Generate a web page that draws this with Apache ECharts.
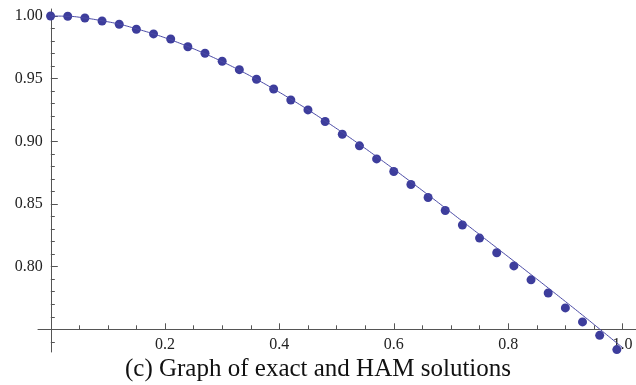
<!DOCTYPE html>
<html>
<head>
<meta charset="utf-8">
<title>exact and HAM solutions</title>
<script src="https://cdn.jsdelivr.net/npm/echarts@6.0.0/dist/echarts.min.js"></script>
<style>
  html, body { margin: 0; padding: 0; background: #fff; }
  #main { width: 636px; height: 385px; }
</style>
</head>
<body>
<div id="main"></div>
<script>
// HAM solution (dots)
const hamX = [0, 0.03, 0.06, 0.09, 0.12, 0.15, 0.18, 0.21, 0.24, 0.27, 0.30, 0.33,
  0.36, 0.39, 0.42, 0.45, 0.48, 0.51, 0.54, 0.57, 0.60, 0.63, 0.66, 0.69,
  0.72, 0.75, 0.78, 0.81, 0.84, 0.87, 0.90, 0.93, 0.96, 0.99]
const hamValues = [1.0000, 0.9998, 0.9984, 0.9960, 0.9934, 0.9894, 0.9857, 0.9817,
  0.9755, 0.9703, 0.9639, 0.9572, 0.9495, 0.9418, 0.9330, 0.9251, 0.9158,
  0.9057, 0.8964, 0.8860, 0.8759, 0.8656, 0.8552, 0.8448, 0.8332, 0.8228,
  0.8111, 0.8006, 0.7895, 0.7790, 0.7671, 0.7559, 0.7452, 0.7338]

// exact solution (thin line)
const exactX = [0, 0.03, 0.06, 0.09, 0.12, 0.15, 0.18, 0.21, 0.24, 0.27, 0.30, 0.33,
  0.36, 0.39, 0.42, 0.45, 0.48, 0.51, 0.54, 0.57, 0.60, 0.63, 0.66, 0.69,
  0.72, 0.75, 0.78, 0.81, 0.84, 0.87, 0.90, 0.93, 0.96, 0.99, 1.00]
const exactValues = [1.0000, 0.9998, 0.9984, 0.9962, 0.9935, 0.9898, 0.9857, 0.9810,
  0.9757, 0.9699, 0.9636, 0.9568, 0.9495, 0.9418, 0.9337, 0.9252, 0.9163,
  0.9071, 0.8976, 0.8878, 0.8778, 0.8676, 0.8573, 0.8468, 0.8362, 0.8256,
  0.8150, 0.8044, 0.7937, 0.7830, 0.7722, 0.7613, 0.7502, 0.7391, 0.7355]

// ticks
const xMajorTicks = [0.2, 0.4, 0.6, 0.8, 1.0]
const xMinorTicks = [0.05, 0.1, 0.15, 0.25, 0.3, 0.35, 0.45, 0.5, 0.55, 0.65, 0.7, 0.75, 0.85, 0.9, 0.95]
const yMajorTicks = [0.80, 0.85, 0.90, 0.95, 1.00]
const yMinorTicks = [0.74, 0.76, 0.77, 0.78, 0.79, 0.81, 0.82, 0.83, 0.84, 0.86, 0.87, 0.88,
  0.89, 0.91, 0.92, 0.93, 0.94, 0.96, 0.97, 0.98, 0.99]

const caption = '(c) Graph of exact and HAM solutions'

const axisColor = '#555'
const dotColor = '#3d3d9c'
const font = 'Liberation Serif'

const xMin = -0.022
const xMax = 1.0235
const yMin = 0.7319
const yMax = 1.0056

const myChart = echarts.init(document.getElementById('main'))

// x axis sits at y = 0.75, y axis at x = 0 (moved in with offset)
const xAxisBase = {
  type: 'value',
  min: xMin,
  max: xMax,
  position: 'bottom',
  offset: -22.7,
  splitLine: { show: false }
}
const yAxisBase = {
  type: 'value',
  min: yMin,
  max: yMax,
  position: 'left',
  offset: -12.8,
  splitLine: { show: false }
}

const options = {
  backgroundColor: '#fff',
  animation: false,
  title: {
    text: caption,
    left: 'center',
    top: 352,
    textStyle: {
      fontFamily: font,
      fontSize: 25,
      fontWeight: 'normal',
      color: '#111'
    }
  },
  grid: {
    left: 38,
    right: 0,
    top: 9,
    bottom: 33,
    outerBoundsMode: 'none'
  },
  xAxis: [
    {
      ...xAxisBase,
      axisLine: { show: true, onZero: false, lineStyle: { color: axisColor, width: 1 } },
      axisTick: { show: true, inside: true, length: 6, customValues: xMajorTicks, lineStyle: { color: axisColor } },
      axisLabel: {
        customValues: xMajorTicks,
        formatter: (v) => v.toFixed(1),
        margin: 7,
        fontFamily: font,
        fontSize: 16,
        color: '#222'
      }
    },
    {
      ...xAxisBase,
      axisLine: { show: false, onZero: false },
      axisTick: { show: true, inside: true, length: 4, customValues: xMinorTicks, lineStyle: { color: axisColor } },
      axisLabel: { show: false }
    }
  ],
  yAxis: [
    {
      ...yAxisBase,
      axisLine: { show: true, onZero: false, lineStyle: { color: axisColor, width: 1 } },
      axisTick: { show: true, inside: true, length: 7, customValues: yMajorTicks, lineStyle: { color: axisColor } },
      axisLabel: {
        customValues: yMajorTicks,
        formatter: (v) => v.toFixed(2),
        margin: 8,
        fontFamily: font,
        fontSize: 16,
        color: '#222'
      }
    },
    {
      ...yAxisBase,
      axisLine: { show: false, onZero: false },
      axisTick: { show: true, inside: true, length: 4, customValues: yMinorTicks, lineStyle: { color: axisColor } },
      axisLabel: { show: false }
    }
  ],
  series: [
    {
      name: 'exact',
      type: 'line',
      xAxisIndex: 0,
      yAxisIndex: 0,
      showSymbol: false,
      smooth: true,
      lineStyle: { color: '#4a4aa6', width: 1 },
      data: exactX.map((x, i) => [x, exactValues[i]])
    },
    {
      name: 'HAM',
      type: 'scatter',
      xAxisIndex: 0,
      yAxisIndex: 0,
      symbolSize: 9,
      itemStyle: { color: dotColor, opacity: 1 },
      data: hamX.map((x, i) => [x, hamValues[i]])
    }
  ]
}
myChart.setOption(options)
</script>
</body>
</html>
